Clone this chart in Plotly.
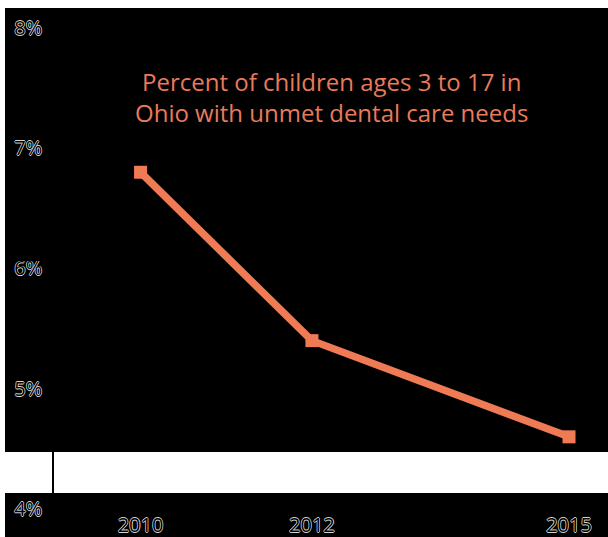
import plotly.graph_objects as go

years = [2010, 2012, 2015]
pct = [6.8, 5.4, 4.6]
y_ticks = [4, 5, 6, 7, 8]
y_tick_labels = ["4%", "5%", "6%", "7%", "8%"]
x_tick_labels = ["2010", "2012", "2015"]
title_lines = ["Percent of children ages 3 to 17 in", "Ohio with unmet dental care needs"]

W, H = 608, 537
L, R, T, B = 54, 0, 8, 28
plot_h = H - T - B

def py(p):
    return (H - B - p) / plot_h

def px(p):
    return (p - L) / (W - L - R)

oc = "#d4d4d4"
outline = f"0.8px 0 0 {oc}, -0.8px 0 0 {oc}, 0 0.8px 0 {oc}, 0 -0.8px 0 {oc}"
tickfont = dict(family="Open Sans, sans-serif", size=20, color="black", shadow=outline)

fig = go.Figure()
fig.add_trace(go.Scatter(
    x=years, y=pct, mode="lines+markers",
    line=dict(color="#EF7B55", width=7.5),
    marker=dict(symbol="square", size=13, color="#EF7B55"),
    hoverinfo="x+y",
))

fig.update_layout(
    template="none",
    width=W, height=H,
    margin=dict(l=L, r=R, t=T, b=B, autoexpand=False),
    paper_bgcolor="white",
    plot_bgcolor="rgba(0,0,0,0)",
    showlegend=False,
    shapes=[
        dict(type="rect", xref="paper", yref="paper", x0=px(5), x1=1, y0=py(452), y1=1,
             fillcolor="black", line=dict(width=0), layer="below"),
        dict(type="rect", xref="paper", yref="paper", x0=px(5), x1=1, y0=py(537), y1=py(493),
             fillcolor="black", line=dict(width=0), layer="below"),
    ],
    annotations=[
        dict(text="<br>".join(title_lines), xref="paper", yref="paper",
             x=px(331), y=py(97), xanchor="center", yanchor="middle", showarrow=False,
             font=dict(family="Open Sans, sans-serif", size=24, color="#E97A5B")),
    ],
    xaxis=dict(range=[2008.99, 2015.455], tickvals=years, ticktext=x_tick_labels,
               showgrid=False, zeroline=False, showline=False, automargin=False,
               ticks="", ticklabelstandoff=2, tickfont=tickfont),
    yaxis=dict(range=[4, 8.166], tickvals=y_ticks, ticktext=y_tick_labels,
               showgrid=False, zeroline=False, showline=True, linecolor="black", linewidth=1.5,
               automargin=False, ticks="outside", ticklen=6, tickcolor="black", tickfont=tickfont),
)

fig.write_html("out.html")
